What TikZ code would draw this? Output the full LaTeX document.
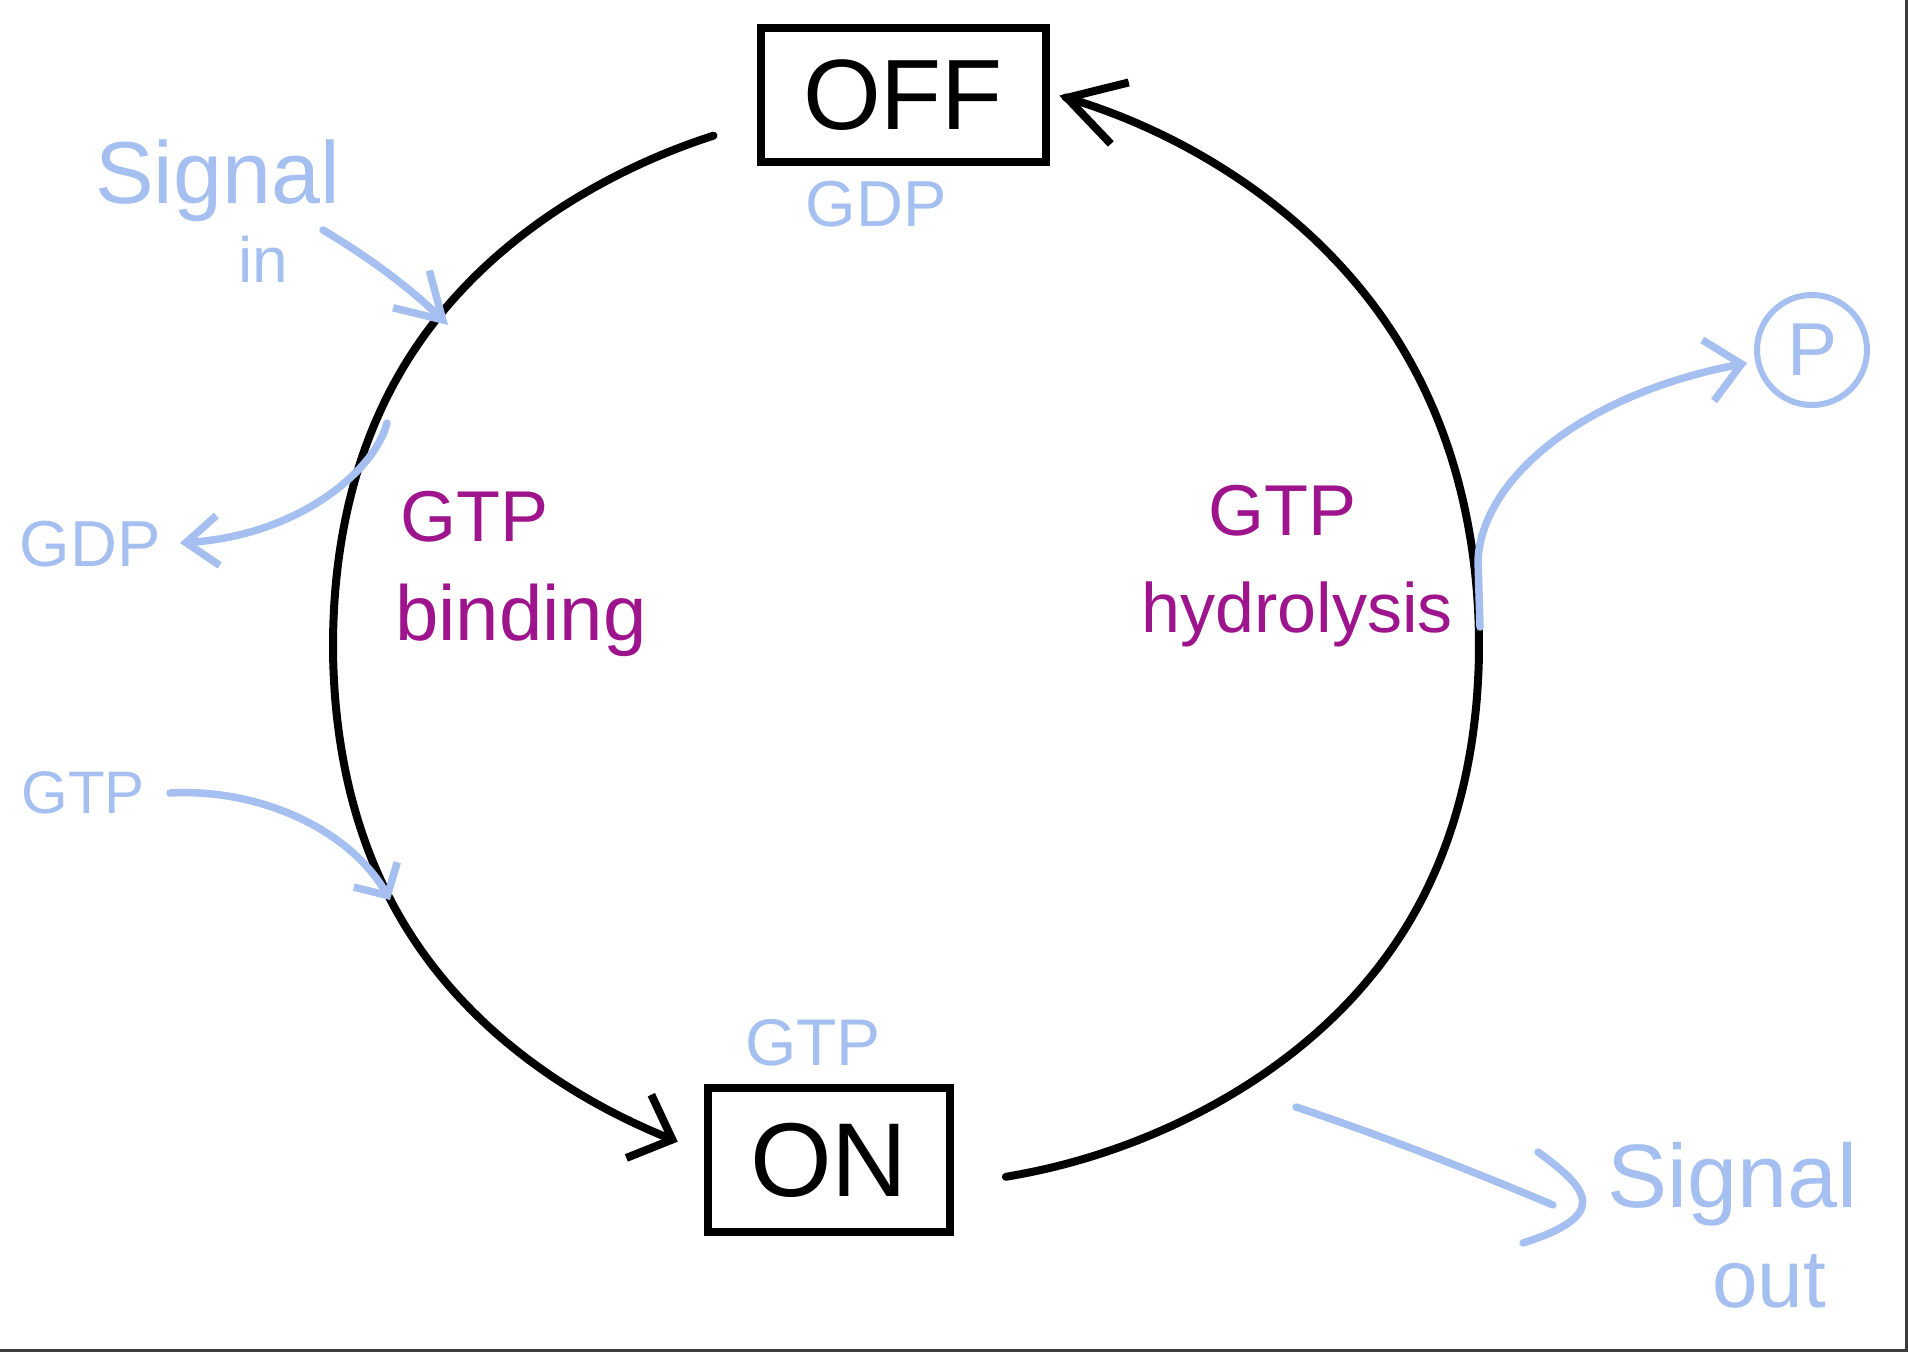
\documentclass[tikz,border=0pt]{standalone}
\usepackage{fontspec}
\setmainfont{Liberation Sans}
\usetikzlibrary{arrows.meta}
\definecolor{sigblue}{RGB}{165,192,240}
\definecolor{mag}{RGB}{158,20,140}
\definecolor{framegray}{RGB}{60,60,60}
\begin{document}
\begin{tikzpicture}[x=1pt,y=-1pt,
  cyc/.style={line width=8pt, line cap=round, line join=round},
  bl/.style={draw=sigblue, line width=7.5pt, line cap=round, line join=round},
  statebox/.style={draw, line width=8pt, inner sep=0pt},
  blab/.style={text=sigblue, inner sep=0pt},
  mlab/.style={text=mag, inner sep=0pt}
]
\useasboundingbox (0,0) rectangle (1908,1352);
\fill[white] (0,0) rectangle (1908,1352);
\draw[framegray, line width=3pt] (0,1350.5) -- (1906.5,1350.5) -- (1906.5,0);

% state boxes
\node[statebox, minimum width=285pt, minimum height=134pt,
      font=\fontsize{100}{100}\selectfont] (off) at (903,95) {OFF};
\node[statebox, minimum width=242pt, minimum height=144pt,
      font=\fontsize{105}{105}\selectfont] (on) at (829,1160) {ON};

% blue labels
\node[blab, font=\fontsize{65}{65}\selectfont] (gdptop) at (876,204) {GDP};
\node[blab, font=\fontsize{66}{66}\selectfont] (gtpbot) at (813,1043) {GTP};
\node[blab, font=\fontsize{65}{65}\selectfont] (gdpout) at (90,544) {GDP};
\node[blab, font=\fontsize{60}{60}\selectfont] (gtpin) at (83,793) {GTP};
\node[blab, anchor=base west, font=\fontsize{88}{88}\selectfont] (sigin) at (95,203) {Signal};
\node[blab, anchor=base west, font=\fontsize{64}{64}\selectfont] (sigin2) at (238,282) {in};
\node[blab, anchor=base west, font=\fontsize{90}{90}\selectfont] (sigout) at (1607,1207) {Signal};
\node[blab, anchor=base west, font=\fontsize{82}{82}\selectfont] (sigout2) at (1712,1307) {out};
\node[draw=sigblue, circle, line width=6pt, minimum size=110pt, inner sep=0pt,
      text=sigblue, font=\fontsize{75}{75}\selectfont] (p) at (1812,350) {P};

% magenta labels
\node[mlab, anchor=base west, font=\fontsize{72}{72}\selectfont] (gtpb) at (400,541) {GTP};
\node[mlab, anchor=base west, font=\fontsize{78}{78}\selectfont] (bind) at (395,640) {binding};
\node[mlab, anchor=base, font=\fontsize{72}{72}\selectfont] (gtph) at (1282,535) {GTP};
\node[mlab, anchor=base, font=\fontsize{70}{70}\selectfont] (hydro) at (1297,632) {hydrolysis};

% cycle arcs (hand-drawn ellipse, OFF -> ON on the left, ON -> OFF on the right)
\draw[cyc, -{Straight Barb[length=36pt,width=68pt]}]
  plot[domain=109.4:246.9, samples=90, smooth]
  ({906+(573+17*sin(2*\x)*sin(2*\x))*cos(\x)}, {645-540*sin(\x)});
\draw[cyc, -{Straight Barb[length=55pt,width=64pt]}]
  plot[domain=-80:74.6, samples=120, smooth]
  ({906+(573+17*sin(2*\x)*sin(2*\x))*cos(\x)}, {645-(540+31*max(0,sin(\x)))*sin(\x)});

% blue arrows
\coordinate (si0) at (323,230);
\coordinate (si1) at (448,325);
\draw[bl, -{Straight Barb[length=44pt,width=52pt]}]
  (si0) .. controls (370,258) and (410,288) .. (si1);
\coordinate (go0) at (387,423);
\coordinate (go1) at (180,543);
\draw[bl, -{Straight Barb[length=32pt,width=50pt]}]
  (go0) .. controls (375,470) and (300,535) .. (go1);
\coordinate (gi0) at (170,793);
\coordinate (gi1) at (390,900);
\draw[bl, -{Straight Barb[length=24pt,width=50pt]}]
  (gi0) .. controls (260,788) and (350,830) .. (gi1);
\coordinate (pp0) at (1480,627);
\coordinate (pp1) at (1747,363);
\draw[bl, -{Straight Barb[length=34pt,width=62pt]}]
  (pp0) -- (1478,560) .. controls (1482,480) and (1580,395) .. (pp1);
\coordinate (so0) at (1296,1107);
\coordinate (so1) at (1553,1205);
\draw[bl] (so0) .. controls (1380,1135) and (1470,1170) .. (so1);
\coordinate (sh0) at (1538,1152);
\coordinate (sh2) at (1523,1243);
\draw[bl] (sh0) .. controls (1590,1190) and (1610,1215) .. (sh2);
\end{tikzpicture}
\end{document}
